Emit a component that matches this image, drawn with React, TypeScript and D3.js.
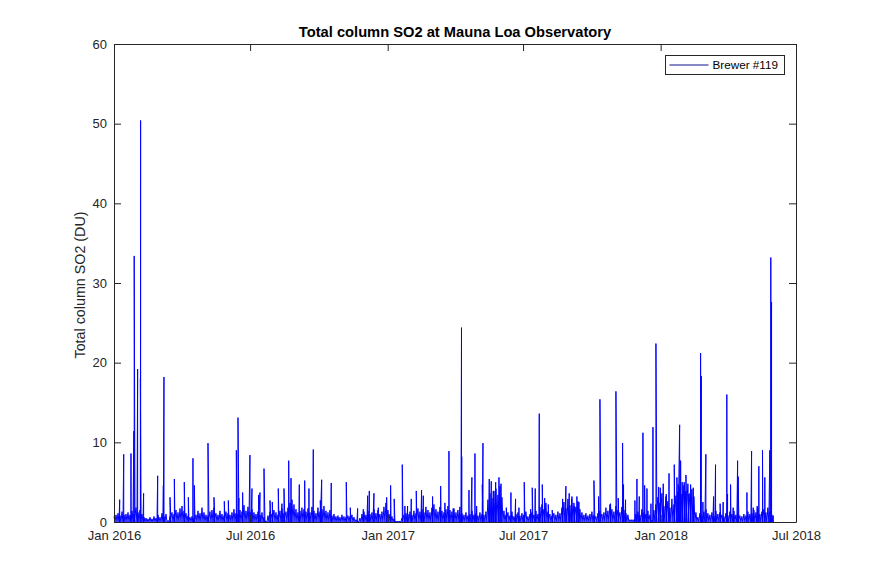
import React, { useEffect, useRef } from 'react';
import * as d3 from 'd3';

const title = 'Total column SO2 at Mauna Loa Observatory';
const yLabel = 'Total column SO2 (DU)';
const legendLabel = 'Brewer #119';

const startDate = new Date(2016, 0, 1);
const endDate = new Date(2018, 6, 1);
const xTickDates = [
  new Date(2016, 0, 1), new Date(2016, 6, 1), new Date(2017, 0, 1),
  new Date(2017, 6, 1), new Date(2018, 0, 1), new Date(2018, 6, 1),
];
const yTicks = [0, 10, 20, 30, 40, 50, 60];

// background level, one reading roughly every 2.7 days
const baseStepDays = 2.674;
const baseLevels = [
  0.7,0.9,1.1,0.8,1.3,0.9,1.0,1.2,0.9,1.4,
  1.0,1.8,1.2,1.5,1.0,0.6,0.5,0.4,0.6,0.4,
  0.7,0.5,0.9,0.6,1.1,0.7,1.0,0.2,0.7,1.2,
  1.0,1.5,1.2,1.7,2.0,1.4,1.1,0.8,0.6,0.7,
  0.5,0.9,1.4,1.1,1.8,1.2,0.9,0.8,1.3,1.5,
  1.8,1.1,0.9,1.4,1.0,0.8,1.3,1.1,0.9,1.2,
  1.6,1.1,1.0,1.5,1.3,2.1,1.4,1.9,1.3,1.6,
  1.2,1.0,1.3,0.9,1.2,0.6,0.1,0.8,1.3,1.0,
  1.5,1.2,0.9,1.4,1.7,1.1,1.3,
  1.8,2.4,2.8,2.2,1.6,1.2,1.4,1.8,1.6,1.3,
  1.7,1.2,1.9,1.4,1.1,1.8,1.3,1.6,2.0,1.4,
  1.2,1.5,0.8,1.0,0.7,0.8,0.6,0.9,0.7,0.6,
  0.8,0.7,0.9,0.6,0.3,0.1,0.5,1.0,1.3,0.9,
  1.4,1.0,1.2,1.6,1.1,1.5,1.0,1.3,1.9,2.4,
  1.5,1.0,0.7,0.4,0.1,0.1,0.1,0.5,0.9,1.1,
  1.0,1.3,0.9,1.4,1.1,1.7,1.3,1.6,1.2,1.9,
  1.5,1.2,1.8,2.2,1.6,1.3,1.9,1.4,1.2,1.6,
  2.0,1.5,1.3,1.7,1.2,1.5,1.0,
  1.1,0.9,1.2,0.8,1.0,1.4,0.9,1.1,0.8,1.2,
  1.0,0.9,1.3,2.8,3.6,3.0,3.9,4.2,3.4,4.5,
  3.1,1.4,0.9,1.2,0.8,1.3,0.7,1.0,1.2,0.8,
  1.1,0.9,1.3,0.7,1.0,1.2,0.9,1.4,1.0,1.9,
  2.2,1.6,2.4,1.3,1.0,0.8,1.1,0.9,1.3,1.1,
  1.8,2.5,1.7,2.9,2.1,3.2,2.4,1.9,2.6,1.6,
  1.2,0.9,1.1,0.8,1.0,1.3,0.9,0.7,1.1,1.4,
  1.0,1.2,1.8,1.4,2.2,1.6,1.3,2.0,1.5,1.2,
  1.9,1.5,1.1,0.9,0.3,0.3,0.3,
  1.0,1.3,0.9,1.6,1.2,1.0,1.4,0.9,
  0.2,1.5,2.2,3.1,2.4,3.6,2.0,3.2,2.6,1.8,
  2.9,2.2,3.3,3.8,4.4,3.5,4.6,3.9,4.8,3.6,
  4.1,3.2,1.2,0.6,1.1,0.8,1.3,1.6,1.1,0.9,
  1.2,0.8,1.4,1.0,1.2,0.9,0.7,1.1,0.8,1.3,
  1.0,1.4,0.9,1.1,0.8,0.7,1.0,0.8,1.3,1.0,
  1.1,1.5,1.2,1.7,1.0,1.3,1.6,1.2,1.8,1.3,
  0.9,
];

// isolated peaks: [days since 1 Jan 2016, DU]
const peaks2016: [number, number][] = [
  [7.6,2.8],[13,8.5],[22.7,8.6],[26.6,11.4],[27,33.4],[31.6,19.2],[35.3,18],[35.6,50.4],[39.6,3.6],
  [58.4,5.8],[66,4.6],[66.8,18.2],[74.9,3.1],[80.7,5.4],[94,5.0],[99.4,3.1],[105.6,8.0],[107.4,4.6],
  [125.7,9.9],[133.7,3.1],[147.5,2.6],[152.9,2.7],[163.6,9.0],[165.8,13.1],[167,3],[172,3.7],
  [181.8,8.4],[184.5,4.2],[193.4,3.4],[195.2,3.7],[200.6,6.7],[208.6,2.7],[211.7,2.5],[219.7,4.2],
  [224.6,2.3],[227.3,4.2],[233.6,7.7],[236.7,5.5],[247.8,4.7],[255,5.2],[260.7,4.2],[266.5,9.1],
  [275.9,2.7],[277.7,5.3],[290.5,4.9],[310.6,5.0],[316,1.8],[325.8,1.7],[333.4,1.6],[339.2,3.3],
  [341.4,3.9],[347.6,3.6],[353.4,1.8],[364.6,3.1],
];
const peaks2017: [number, number][] = [
  [369.9,4.6],[374.7,2.9],[385.5,7.2],[389,2],[392.6,2],[397.5,2.9],[404.2,3.9],[411.3,4.0],[413.6,3.3],
  [426,3.2],[436.8,4.5],[442.5,2.4],[447.9,8.9],[453.6,1.7],[462.6,1.9],[464.7,24.4],[465,8.2],
  [474.7,4.0],[478.6,5.6],[482.7,8.6],[484.9,2],[492.5,4.7],[493.4,9.9],[501.8,5.4],[504.5,5.1],
  [507.2,3.9],[510.4,5.0],[514.8,5.6],[517.5,4.8],[524.6,1.8],[530.8,3.7],[537,2.9],[541.5,1.8],
  [548.6,5.0],[557.1,1.6],[559.3,4.3],[563.3,4.2],[568.7,13.6],[572.7,4.7],[575.9,3],[580.7,2.2],
  [586,1.5],[599.9,2.9],[604.3,4.5],[608.7,3.6],[611.9,2.9],[615.4,2],[619,3.2],[621.7,2.5],
  [641.8,5.2],[648,3.2],[649.8,15.4],[664,2.3],[671.2,16.4],[674.3,3],[680.1,9.9],[681.4,4.7],[684.1,2.8],
  [696.6,2.7],[699.3,5.4],[702.4,3.2],[707.3,11.2],[709.6,4.6],[712.7,4.2],[718,2.3],[720.7,11.9],[724.7,22.4],
];
const peaks2018: [number, number][] = [
  [728.3,4.4],[730.5,4.3],[734.5,4.8],[738.5,3.5],[742.2,6.1],[749.2,7.2],[752.8,5.6],[754.5,4.7],
  [756.4,12.2],[757.7,7.7],[759.8,5],[762.5,5],[764.8,5.9],[767.9,3.5],[771.1,4.7],[774.6,4.3],
  [784.4,21.2],[785.3,18.3],[787.5,2.5],[791.5,8.5],[801.8,3.2],[804.4,7.2],[810.5,2.3],[814.6,2.5],
  [819.5,16],[820.5,3.5],[824.5,4.7],[828,1.8],[833.9,7.7],[834.7,5.7],[846.4,3.7],[852.6,8.9],
  [854.8,1.8],[860.1,2],[862.3,7],[867.2,9],[870.3,5.6],[877,9],[878.3,33.2],[879.3,27.6],[881.5,0.8],
];

const width = 880;
const height = 586;
const margin = { top: 44, right: 84, bottom: 64, left: 114 };
const inkColor = '#262626';
const fontFamily = '"Liberation Sans", Arial, sans-serif';

const App = () => {
  const svgRef = useRef<SVGSVGElement | null>(null);

  useEffect(() => {
    if (!svgRef.current) return;
    const svg = d3.select(svgRef.current);
    svg.selectAll('*').remove();

    const x = d3.scaleTime().domain([startDate, endDate]).range([margin.left, width - margin.right]);
    const y = d3.scaleLinear().domain([0, 60]).range([height - margin.bottom, margin.top]);
    const dayDate = (d: number) => new Date(startDate.getTime() + d * 86400000);

    // background readings zigzag to the floor half a step later, peaks drop straight down
    const baseSamples = baseLevels.map((v, i) => [i * baseStepDays, v, baseStepDays / 2]);
    const peakSamples = [...peaks2016, ...peaks2017, ...peaks2018].map(([d, v]) => [d, v, 0.05]);
    const samples = [...baseSamples, ...peakSamples].sort((a, b) => a[0] - b[0]);

    const linePoints: [number, number][] = [];
    samples.forEach(([day, value, drop]) => {
      linePoints.push([day, value]);
      linePoints.push([day + drop, 0]);
    });

    const line = d3.line<[number, number]>()
      .x(d => x(dayDate(d[0])))
      .y(d => y(d[1]));

    svg.append('path')
      .attr('d', line(linePoints))
      .attr('fill', 'none')
      .attr('stroke', '#0000ff')
      .attr('stroke-width', 1)
      .attr('stroke-linejoin', 'round');

    // axes, inward ticks on all four sides
    const styleAxis = (g: d3.Selection<SVGGElement, unknown, null, undefined>) => {
      g.select('.domain').attr('stroke', inkColor);
      g.selectAll('.tick line').attr('stroke', inkColor);
      g.selectAll('.tick text')
        .attr('fill', inkColor)
        .style('font-family', fontFamily)
        .style('font-size', '13px');
    };

    const monthFormat = d3.timeFormat('%b %Y');

    svg.append('g')
      .attr('transform', `translate(0,${height - margin.bottom})`)
      .call(d3.axisBottom(x).tickValues(xTickDates).tickFormat(d => monthFormat(d as Date)).tickSizeInner(-7).tickSizeOuter(0).tickPadding(9))
      .call(styleAxis);
    svg.append('g')
      .attr('transform', `translate(0,${margin.top})`)
      .call(d3.axisTop(x).tickValues(xTickDates).tickFormat(() => '').tickSizeInner(-7).tickSizeOuter(0))
      .call(styleAxis);
    svg.append('g')
      .attr('transform', `translate(${margin.left},0)`)
      .call(d3.axisLeft(y).tickValues(yTicks).tickSizeInner(-7).tickSizeOuter(0).tickPadding(7))
      .call(styleAxis);
    svg.append('g')
      .attr('transform', `translate(${width - margin.right},0)`)
      .call(d3.axisRight(y).tickValues(yTicks).tickFormat(() => '').tickSizeInner(-7).tickSizeOuter(0))
      .call(styleAxis);

    svg.append('text')
      .attr('x', (margin.left + width - margin.right) / 2)
      .attr('y', 37)
      .attr('text-anchor', 'middle')
      .attr('fill', '#000')
      .style('font-family', fontFamily)
      .style('font-size', '14.7px')
      .style('font-weight', 'bold')
      .text(title);

    svg.append('text')
      .attr('transform', `translate(85,${(margin.top + height - margin.bottom) / 2 + 2}) rotate(-90)`)
      .attr('text-anchor', 'middle')
      .attr('fill', inkColor)
      .style('font-family', fontFamily)
      .style('font-size', '14.3px')
      .text(yLabel);

    // legend
    const legend = svg.append('g').attr('transform', 'translate(665.5,55.5)');
    legend.append('rect')
      .attr('width', 119)
      .attr('height', 19)
      .attr('fill', '#fff')
      .attr('stroke', inkColor);
    legend.append('line')
      .attr('x1', 4)
      .attr('x2', 43)
      .attr('y1', 9.5)
      .attr('y2', 9.5)
      .attr('stroke', '#10108a');
    legend.append('text')
      .attr('x', 47)
      .attr('y', 13.5)
      .attr('fill', '#000')
      .style('font-family', fontFamily)
      .style('font-size', '11.7px')
      .text(legendLabel);
  }, []);

  return (
    <svg
      ref={svgRef}
      width={width}
      height={height}
      viewBox={`0 0 ${width} ${height}`}
      style={{ position: 'absolute', left: 0, top: 0, background: '#fff' }}
    />
  );
};

export default App;
